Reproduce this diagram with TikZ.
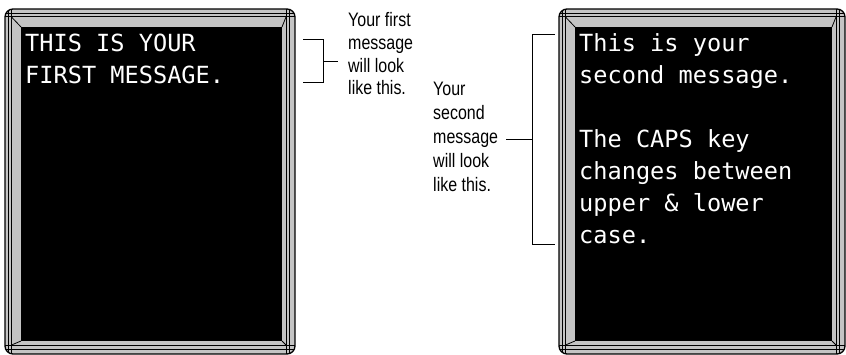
\documentclass[tikz,border=0pt]{standalone}
\usepackage{fontspec}
\newfontfamily\signfont{DejaVu Sans Mono}
\newfontfamily\annotfont[FakeStretch=0.82]{Liberation Sans}
\definecolor{framegray}{RGB}{196,196,196}
\tikzset{
  signtext/.style={anchor=base west, inner sep=0pt, text=white, font=\signfont\fontsize{23.6}{32}\selectfont},
  annot/.style={anchor=base west, inner sep=0pt, font=\annotfont\fontsize{19.5}{22}\selectfont},
  bracket/.style={draw=black, line width=1pt},
  frameline/.style={draw=black, line width=1pt},
}
% #1,#2 = top-left ; #3,#4 = bottom-right (pixel coords, y downward)
\newcommand\signframe[4]{%
  \begin{scope}
    \path[clip, rounded corners=8pt] (#1,#2) rectangle (#3,#4);
    \fill[framegray] (#1,#2) rectangle (#3,#4);
    \draw[frameline] ({#1+3},#2) -- ({#1+3},#4);
    \draw[frameline] ({#1+6.5},#2) -- ({#1+6.5},#4);
    \draw[frameline] ({#3-9},#2) -- ({#3-9},#4);
    \draw[frameline] ({#3-5.5},#2) -- ({#3-5.5},#4);
    \draw[frameline] (#1,{#2+4.5}) -- (#3,{#2+4.5});
    \draw[frameline] (#1,{#2+8}) -- (#3,{#2+8});
    \draw[frameline] (#1,{#4-9}) -- (#3,{#4-9});
    \draw[frameline] (#1,{#4-5}) -- (#3,{#4-5});
    % bevel
    \draw[frameline, line width=0.8pt] ({#1+6.5},{#2+8}) -- ({#1+16},{#2+18});
    \draw[frameline, line width=0.8pt] ({#3-9},{#2+8}) -- ({#3-13},{#2+18});
    \draw[frameline, line width=0.8pt] ({#1+6.5},{#4-9}) -- ({#1+16},{#4-13});
    \draw[frameline, line width=0.8pt] ({#3-9},{#4-9}) -- ({#3-13},{#4-13});
    \fill[black] ({#1+16},{#2+18}) rectangle ({#3-13},{#4-13});
  \end{scope}
  \draw[black, line width=1.3pt, rounded corners=8pt] (#1,#2) rectangle (#3,#4);
}
\begin{document}
\begin{tikzpicture}[x=1pt,y=-1pt]
\useasboundingbox (0,0) rectangle (846,355);
\fill[white] (0,0) rectangle (846,355);

\signframe{5}{9}{295}{354}
\signframe{559}{9}{845}{354}

% first sign text
\node[signtext] (a1) at (25,52) {THIS IS YOUR};
\node[signtext] (a2) at (25,84) {FIRST MESSAGE.};

% second sign text
\node[signtext] (b1) at (579,52) {This is your};
\node[signtext] (b2) at (579,84) {second message.};
\node[signtext] (b3) at (579,148) {The CAPS key};
\node[signtext] (b4) at (579,180) {changes between};
\node[signtext] (b5) at (579,212) {upper \& lower};
\node[signtext] (b6) at (579,244) {case.};

% annotation 1
\node[annot] (n1) at (348,27) {Your first};
\node[annot] (n2) at (348,49.7) {message};
\node[annot] (n3) at (348,72.3) {will look};
\node[annot] (n4) at (348,95) {like this.};

% annotation 2
\node[annot] (m1) at (433,96) {Your};
\node[annot] (m2) at (433,120) {second};
\node[annot] (m3) at (433,144) {message};
\node[annot] (m4) at (433,168) {will look};
\node[annot] (m5) at (433,192) {like this.};

% bracket 1
\coordinate (p1) at (303,40);
\coordinate (p2) at (323,40);
\coordinate (p3) at (323,83);
\coordinate (p4) at (303,83);
\coordinate (t1) at (323,62);
\coordinate (t2) at (338,62);
\draw[bracket] (p1) -- (p2) -- (p3) -- (p4);
\draw[bracket] (t1) -- (t2);

% bracket 2
\coordinate (q1) at (555,35);
\coordinate (q2) at (532,35);
\coordinate (q3) at (532,245);
\coordinate (q4) at (555,245);
\coordinate (u1) at (506,140);
\coordinate (u2) at (532,140);
\draw[bracket] (q1) -- (q2) -- (q3) -- (q4);
\draw[bracket] (u1) -- (u2);
\end{tikzpicture}
\end{document}
